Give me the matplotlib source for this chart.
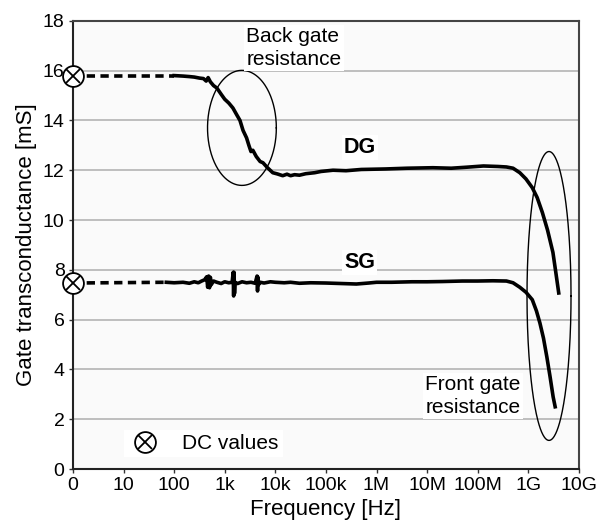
import numpy as np
import matplotlib
matplotlib.use("Agg")
import matplotlib.pyplot as plt
from matplotlib.lines import Line2D

plt.rcParams['font.family'] = ['Liberation Sans', 'DejaVu Sans']

# ---- data ----
dg_freq = [100, 150, 200, 250, 316, 380, 430, 470, 520, 600, 700, 850, 1000, 1200, 1450,
           1700, 2000, 2300, 2700, 3000, 3300, 3600, 4200, 5000, 5700, 7000, 8900, 11000,
           14000, 17000, 20000, 24000, 30000, 40000, 60000, 80000, 1.38e5, 2.5e5, 5e5,
           1.5e6, 4e6, 1.3e7, 3e7, 6e7, 1.3e8, 2.5e8, 3.7e8, 5e8, 6.8e8, 9e8, 1.2e9,
           1.5e9, 1.9e9, 2.4e9, 3.07e9, 3.5e9, 4.0e9]
dg_vals = [15.8, 15.78, 15.76, 15.74, 15.7, 15.68, 15.58, 15.72, 15.55, 15.4, 15.3, 15.05, 14.85,
           14.7, 14.5, 14.25, 14.0, 13.6, 13.3, 13.0, 12.75, 12.8, 12.55, 12.35, 12.3, 12.1,
           11.9, 11.85, 11.78, 11.84, 11.78, 11.82, 11.8, 11.86, 11.9, 11.95, 12.0, 11.98,
           12.03, 12.05, 12.08, 12.1, 12.08, 12.12, 12.17, 12.15, 12.13, 12.08, 11.9, 11.65,
           11.3, 10.9, 10.3, 9.6, 8.7, 7.9, 7.07]

sg_freq = [70, 100, 150, 200, 250, 300, 350, 400, 440, 460, 480, 500, 520, 540, 600, 700,
           850, 1000, 1200, 1400, 1470, 1500, 1530, 1560, 1600, 1800, 2200, 2700, 3300, 4000,
           4350, 4450, 4550, 4650, 5000, 6000, 8000, 10000, 15000, 20000, 30000, 50000,
           1e5, 2e5, 4e5, 7e5, 1e6, 2e6, 5e6, 1e7, 2e7, 5e7, 1e8, 2e8, 3.7e8, 5e8, 6.8e8,
           9e8, 1.2e9, 1.45e9, 1.7e9, 2.0e9, 2.33e9, 2.7e9, 3.1e9, 3.4e9]
sg_vals = [7.5, 7.48, 7.5, 7.46, 7.52, 7.48, 7.55, 7.6, 7.72, 7.3, 7.75, 7.28, 7.7, 7.4, 7.55,
           7.5, 7.45, 7.52, 7.48, 7.5, 7.9, 6.95, 7.9, 7.05, 7.5, 7.45, 7.52, 7.48, 7.5, 7.46,
           7.75, 7.15, 7.7, 7.4, 7.5, 7.47, 7.52, 7.5, 7.48, 7.5, 7.46, 7.48, 7.47, 7.45,
           7.43, 7.47, 7.5, 7.5, 7.52, 7.52, 7.53, 7.55, 7.55, 7.56, 7.55, 7.48, 7.3,
           7.1, 6.8, 6.35, 5.86, 5.25, 4.5, 3.7, 2.9, 2.5]

dc_freq = 1.0
dg_dc = 15.8
sg_dc = 7.47

xtick_pos = [1e0, 1e1, 1e2, 1e3, 1e4, 1e5, 1e6, 1e7, 1e8, 1e9, 1e10]
xtick_labels = ["0", "10", "100", "1k", "10k", "100k", "1M", "10M", "100M", "1G", "10G"]
ytick_pos = list(range(0, 19, 2))

# ---- figure ----
fig = plt.figure(figsize=(5.98, 5.2), dpi=100)
ax = fig.add_axes([0.122, 0.098, 0.846, 0.862])
ax.set_facecolor('#fafafa')
ax.set_xscale('log')
ax.set_xlim(1, 1e10)
ax.set_ylim(0, 18)

ax.yaxis.grid(True, color='#b4b4b4', linewidth=1.2)
ax.set_axisbelow(True)

# dashed DC extrapolations
ax.plot([dc_freq, dg_freq[0]], [dg_dc, dg_vals[0]], color='black', lw=2.6,
        ls=(0, (2.3, 1.5)), zorder=3)
ax.plot([dc_freq, sg_freq[0]], [sg_dc, sg_vals[0]], color='black', lw=2.6,
        ls=(0, (2.3, 1.5)), zorder=3)

ax.plot(dg_freq, dg_vals, color='black', lw=2.6, zorder=4)
ax.plot(sg_freq, sg_vals, color='black', lw=2.6, zorder=4)

# DC markers
for v in (dg_dc, sg_dc):
    ax.plot([dc_freq], [v], marker='o', ms=15, mfc='white', mec='black', mew=1.3,
            clip_on=False, zorder=6)
    ax.plot([dc_freq], [v], marker='x', ms=10, mec='black', mew=1.3,
            clip_on=False, zorder=7)

# ellipses (drawn in log-x data space)
t = np.linspace(0, 2 * np.pi, 300)
def ellipse(cx_log, hw_dec, cy, hh):
    ax.plot(10 ** (cx_log + hw_dec * np.cos(t)), cy + hh * np.sin(t),
            color='black', lw=1.0, zorder=5)
ellipse(3.34, 0.68, 13.7, 2.31)
ellipse(9.41, 0.435, 6.95, 5.8)

# annotations
bbox = dict(facecolor='white', edgecolor='none', pad=1.5)
ax.text(10 ** 3.43, 16.9, "Back gate\nresistance", fontsize=15, ha='left', va='center',
        linespacing=1.25, bbox=bbox, zorder=6)
ax.text(10 ** 5.67, 12.9, "DG", fontsize=15.5, fontweight='bold', ha='center', va='center',
        bbox=bbox, zorder=6)
ax.text(10 ** 5.67, 8.3, "SG", fontsize=15.5, fontweight='bold', ha='center', va='center',
        bbox=bbox, zorder=6)
ax.text(10 ** 8.85, 2.93, "Front gate\nresistance", fontsize=15, ha='right', va='center',
        linespacing=1.25, bbox=bbox, zorder=6)

# DC legend
h_circ = Line2D([], [], marker='o', ms=15, mfc='white', mec='black', mew=1.3, ls='none')
h_x = Line2D([], [], marker='x', ms=10, mec='black', mew=1.3, ls='none')
leg = ax.legend([(h_circ, h_x)], ["DC values"], loc='center left', fontsize=15,
                frameon=True, fancybox=False, edgecolor='none', facecolor='white',
                framealpha=1, bbox_to_anchor=(0.08, 0.057), handletextpad=1.0,
                handlelength=1.6, borderpad=0.2)

ax.set_xticks(xtick_pos)
ax.set_xticklabels(xtick_labels)
ax.xaxis.set_minor_locator(matplotlib.ticker.NullLocator())
ax.set_yticks(ytick_pos)
ax.tick_params(axis='both', labelsize=14, length=3, width=1, color='#333333', pad=3)

for s in ('left', 'bottom'):
    ax.spines[s].set_color('#222222')
    ax.spines[s].set_linewidth(1.5)
for s in ('top', 'right'):
    ax.spines[s].set_color('#444444')
    ax.spines[s].set_linewidth(1.5)

ax.set_xlabel("Frequency [Hz]", fontsize=16, labelpad=3)
ax.set_ylabel("Gate transconductance [mS]", fontsize=16, labelpad=4)

fig.savefig("out.png", dpi=100)
